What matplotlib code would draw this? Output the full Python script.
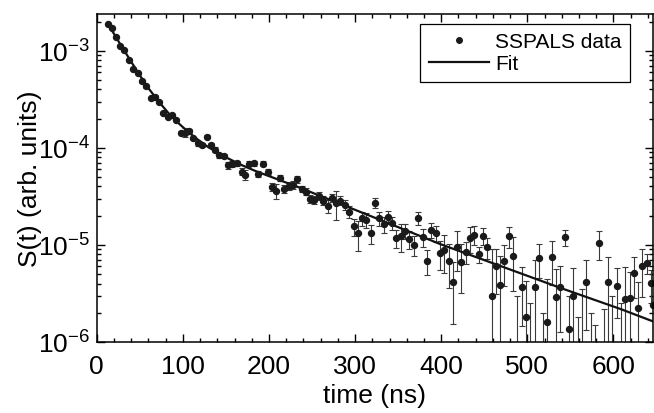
import matplotlib
matplotlib.use("Agg")
import matplotlib.pyplot as plt
from matplotlib.lines import Line2D
from matplotlib.ticker import MultipleLocator, LogLocator

# measured points (time in ns, signal, 1-sigma error)
t_data = [12.8, 17.4, 22.4, 27.1, 32.1, 37.5, 42.5, 47.6, 52.6, 57.6,
          62.8, 67.8, 72.4, 77.4, 82.5, 87.5, 92.5, 97.6, 102.6, 107.6,
          112.3, 117.4, 122.4, 127.8, 132.5, 137.5, 142.5, 147.6, 152.6, 157.6,
          162.7, 168.5, 172.3, 177.3, 182.8, 187.8, 192.9, 198.3, 203.4, 208.4,
          213.0, 218.0, 223.1, 227.8, 233.1, 238.2, 242.9, 247.9, 252.5, 258.3,
          262.6, 268.0, 273.1, 278.1, 282.7, 287.7, 292.9, 298.2, 302.9, 308.0,
          313.0, 318.0, 323.1, 328.1, 333.1, 338.2, 343.2, 347.8, 352.8, 357.9,
          362.9, 367.9, 373.0, 378.4, 383.5, 388.5, 393.5, 398.1, 403.6, 408.6,
          413.2, 418.4, 423.4, 428.4, 433.5, 438.5, 443.5, 448.6, 453.6, 458.6,
          463.7, 468.7, 473.3, 478.3, 483.4, 493.4, 498.5, 508.5, 513.2, 523.3,
          528.8, 533.8, 538.4, 543.4, 548.5, 553.5, 568.6, 583.8, 593.8, 603.8,
          613.6, 618.9, 623.6, 628.7, 633.7, 638.7, 643.8, 646.5]

s_data = [1.90e-3, 1.73e-3, 1.38e-3, 1.12e-3, 1.03e-3, 8.07e-4, 6.52e-4, 5.89e-4, 4.83e-4, 4.29e-4,
          3.25e-4, 3.38e-4, 2.96e-4, 2.28e-4, 2.10e-4, 2.19e-4, 1.94e-4, 1.44e-4, 1.44e-4, 1.49e-4,
          1.25e-4, 1.11e-4, 1.07e-4, 1.30e-4, 1.06e-4, 9.6e-5, 8.4e-5, 8.3e-5, 6.6e-5, 6.84e-5,
          6.95e-5, 5.70e-5, 5.27e-5, 6.84e-5, 6.95e-5, 5.40e-5, 6.84e-5, 5.61e-5, 3.99e-5, 3.63e-5,
          4.88e-5, 3.78e-5, 4.08e-5, 4.16e-5, 4.79e-5, 3.78e-5, 3.54e-5, 2.98e-5, 2.91e-5, 3.22e-5,
          2.86e-5, 2.51e-5, 3.05e-5, 2.71e-5, 2.86e-5, 2.58e-5, 2.20e-5, 1.55e-5, 1.32e-5, 1.88e-5,
          1.81e-5, 1.32e-5, 2.71e-5, 1.88e-5, 1.64e-5, 1.93e-5, 1.69e-5, 1.17e-5, 1.25e-5, 1.40e-5,
          1.15e-5, 1.00e-5, 1.88e-5, 1.20e-5, 6.88e-6, 1.43e-5, 1.32e-5, 8.28e-6, 8.95e-6, 6.88e-6,
          4.12e-6, 9.6e-6, 6.73e-6, 8.53e-6, 1.17e-5, 1.28e-5, 8.07e-6, 1.25e-5, 9.46e-6, 3.0e-6,
          6.12e-6, 3.87e-6, 6.88e-6, 1.23e-5, 7.76e-6, 3.66e-6, 1.81e-6, 3.72e-6, 7.40e-6, 1.61e-6,
          7.47e-6, 2.93e-6, 3.66e-6, 1.21e-5, 1.35e-6, 3.0e-6, 4.12e-6, 1.05e-5, 4.12e-6, 3.75e-6,
          2.77e-6, 2.86e-6, 5.14e-6, 2.22e-6, 6.03e-6, 6.52e-6, 4.03e-6, 2.40e-6]

s_err = [4e-5, 3.5e-5, 3e-5, 2.5e-5, 2.2e-5, 1.8e-5, 1.5e-5, 1.4e-5, 1.2e-5, 1.1e-5,
         9e-6, 9e-6, 8e-6, 7e-6, 7e-6, 7e-6, 6.5e-6, 6e-6, 1.5e-5, 6e-6,
         5.5e-6, 5.5e-6, 5e-6, 5e-6, 5e-6, 5e-6, 4.5e-6, 4.5e-6, 5e-6, 4.5e-6,
         4.5e-6, 5e-6, 6e-6, 4e-6, 4e-6, 4e-6, 4e-6, 4e-6, 4e-6, 6.5e-6,
         3.5e-6, 3.5e-6, 4e-6, 4e-6, 4e-6, 3e-6, 3e-6, 3e-6, 3e-6, 3e-6,
         3e-6, 4e-6, 3e-6, 9e-6, 3e-6, 3e-6, 3e-6, 3e-6, 4.5e-6, 3e-6,
         3e-6, 3e-6, 3e-6, 3e-6, 3e-6, 3e-6, 2.5e-6, 2.4e-6, 4e-6, 2.5e-6,
         2.5e-6, 2.3e-6, 2.8e-6, 2.5e-6, 2e-6, 2.5e-6, 2.5e-6, 2.8e-6, 3.8e-6, 3.3e-6,
         2.6e-6, 4.2e-6, 3.5e-6, 2.1e-6, 3.5e-6, 2.8e-6, 1.5e-6, 2.5e-6, 2.3e-6, 6.1e-6,
         3.0e-6, 3.8e-6, 3.1e-6, 2.9e-6, 4.4e-6, 2.2e-6, 2.4e-6, 3.2e-6, 2.8e-6, 2.9e-6,
         3.6e-6, 2.7e-6, 2.4e-6, 2.3e-6, 1.65e-6, 2.75e-6, 2.8e-6, 3.5e-6, 3.35e-6, 2.0e-6,
         3.1e-6, 2.4e-6, 2.3e-6, 1.9e-6, 3.1e-6, 1.5e-6, 1.5e-6, 1.5e-6]

# points that fall below the axis, only their error bars show
t_low = [488.4, 503.5, 518.6, 558.5, 563.6, 573.6, 578.7, 588.7, 598.8, 608.7]
s_low = [5e-7, 5e-7, 5e-7, 5e-7, 5e-7, 5e-7, 5e-7, 5e-7, 5e-7, 5e-7]
err_low = [2.5e-6, 2e-6, 1.5e-6, 1.3e-6, 3e-6, 1.5e-6, 1e-6, 1.7e-6, 2.5e-6, 2e-6]

# fit curve
t_fit = [12.9, 24.8, 36.4, 48.0, 59.6, 71.2, 82.9, 94.5, 106.1, 117.7, 129.3, 140.9,
         152.5, 167.7, 184.0, 236.3, 282.7, 329.2, 398.9, 468.6, 538.4, 608.1, 647.6]
s_fit = [1.90e-3, 1.27e-3, 8.67e-4, 5.93e-4, 4.16e-4, 3.05e-4, 2.30e-4, 1.81e-4, 1.46e-4,
         1.21e-4, 1.02e-4, 8.87e-5, 7.79e-5, 6.68e-5, 5.79e-5, 3.87e-5, 2.65e-5, 1.81e-5,
         1.02e-5, 6.08e-6, 3.61e-6, 2.19e-6, 1.61e-6]

plt.rcParams["font.family"] = ["Liberation Sans", "DejaVu Sans"]
plt.rcParams["mathtext.fontset"] = "custom"
plt.rcParams["mathtext.rm"] = "Liberation Sans"
plt.rcParams["axes.unicode_minus"] = False

fig = plt.figure(figsize=(6.54, 4.14), dpi=100)
ax = fig.add_axes([0.148, 0.1715, 0.8505, 0.7925])

ax.errorbar(t_low, s_low, yerr=err_low, fmt="none", ecolor="#3a3a3a",
            elinewidth=0.8, capsize=2.5, capthick=0.8)
ax.errorbar(t_data, s_data, yerr=s_err, fmt="o", ms=4.3, color="#1a1a1a",
            ecolor="#3a3a3a", elinewidth=0.8, capsize=2.5, capthick=0.8)
ax.plot(t_fit, s_fit, color="#111111", lw=1.6)

ax.set_yscale("log")
ax.set_xlim(0, 646)
ax.set_ylim(1e-6, 2.4e-3)
ax.xaxis.set_major_locator(MultipleLocator(100))
ax.xaxis.set_minor_locator(MultipleLocator(20))
ax.yaxis.set_major_locator(LogLocator(base=10))
ax.yaxis.set_minor_locator(LogLocator(base=10, subs=range(2, 10)))

ax.tick_params(which="both", direction="in", top=True, right=True, width=1,
               labelsize=19)
ax.tick_params(which="major", length=6)
ax.tick_params(which="minor", length=3)
ax.tick_params(axis="x", which="major", pad=9)
ax.tick_params(axis="y", which="major", pad=5)
for sp in ax.spines.values():
    sp.set_linewidth(1.1)

ax.set_xlabel("time (ns)", fontsize=19, labelpad=3)
ax.set_ylabel("S(t) (arb. units)", fontsize=19, labelpad=-3)

handles = [Line2D([], [], marker="o", ls="none", ms=4, color="#1a1a1a"),
           Line2D([], [], color="#111111", lw=1.6)]
leg = ax.legend(handles, ["SSPALS data", "Fit"], loc="upper right",
                bbox_to_anchor=(0.9587, 0.9695), borderaxespad=0,
                fontsize=15, frameon=True, fancybox=False, edgecolor="black",
                framealpha=1, handlelength=2.9, handletextpad=0.3,
                labelspacing=0.15, borderpad=0.4)
leg.get_frame().set_linewidth(0.9)

fig.savefig("out.png", dpi=100)
